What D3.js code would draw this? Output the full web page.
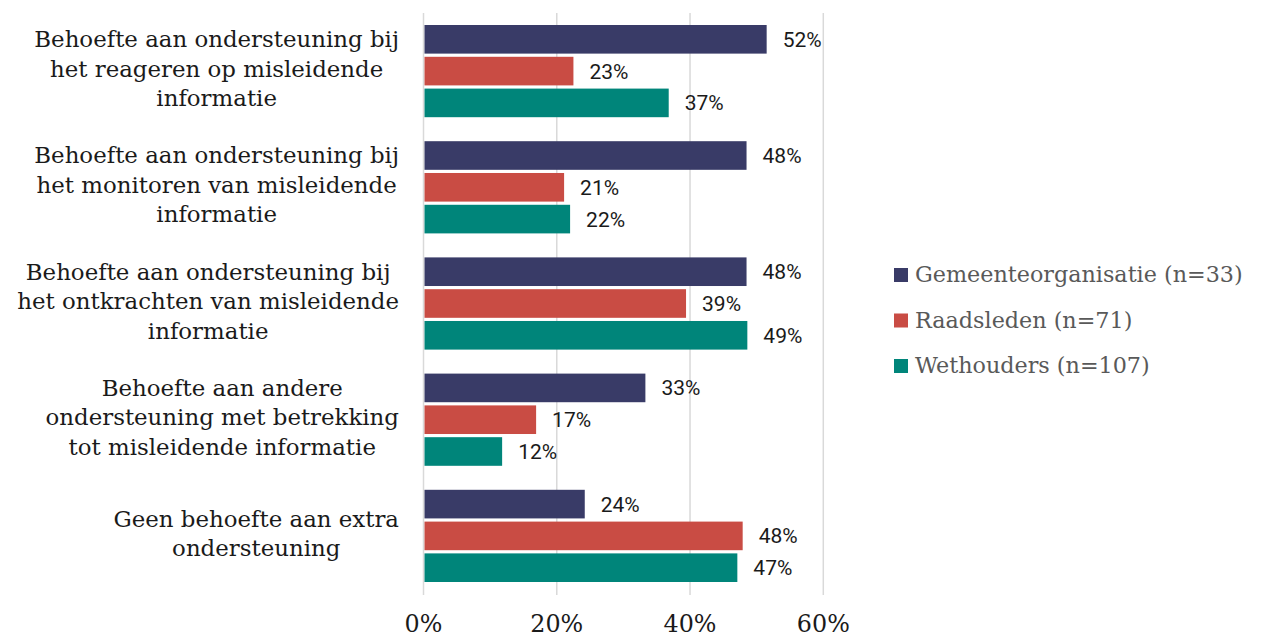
<!DOCTYPE html>
<html>
<head>
<meta charset="utf-8">
<script src="https://cdn.jsdelivr.net/npm/d3@7"></script>
<style>
  html, body { margin: 0; padding: 0; background: #ffffff; }
  svg { display: block; }
</style>
</head>
<body>
<svg id="chart" width="1266" height="637"></svg>
<script>
// ---- data ----
const categories = [
  ["Behoefte aan ondersteuning bij", "het reageren op misleidende", "informatie"],
  ["Behoefte aan ondersteuning bij", "het monitoren van misleidende", "informatie"],
  ["Behoefte aan ondersteuning bij", "het ontkrachten van misleidende", "informatie"],
  ["Behoefte aan andere", "ondersteuning met betrekking", "tot misleidende informatie"],
  ["Geen behoefte aan extra", "ondersteuning"]
];
const seriesNames = ["Gemeenteorganisatie (n=33)", "Raadsleden (n=71)", "Wethouders (n=107)"];
const gemeenteorganisatie = [51.5, 48.48, 48.48, 33.3, 24.2];
const raadsleden = [22.5, 21.1, 39.4, 16.9, 47.9];
const wethouders = [36.8, 22.0, 48.6, 11.8, 47.1];
const tickValues = [0, 20, 40, 60];
const tickLabels = ["0%", "20%", "40%", "60%"];

// ---- styles ----
const colors = ["#393b67", "#c94c44", "#00857a"];
const serif = "'DejaVu Serif', 'Liberation Serif', serif";
const sans = "Roboto, 'Liberation Sans', sans-serif";

const svg = d3.select("#chart");
const seriesValues = [gemeenteorganisatie, raadsleden, wethouders];

function fitSize(text, family, target) {
  const t = svg.append("text").attr("font-family", family).attr("font-size", 20).text(text);
  const w = t.node().getComputedTextLength();
  t.remove();
  return 20 * target / w;
}

const catSize = fitSize("Behoefte aan ondersteuning bij", serif, 365);
const legSize = fitSize("Gemeenteorganisatie (n=33)", serif, 328);
const tickSize = fitSize("20%", serif, 53);

const x = d3.scaleLinear().domain([0, 60]).range([423.5, 823.3]);
const y0 = d3.scaleBand().domain(d3.range(categories.length)).range([13, 594]);
const y1 = d3.scaleBand().domain(d3.range(seriesNames.length))
  .range([12, y0.bandwidth() - 12]).paddingInner(0.1);

// gridlines
svg.append("g").selectAll("line").data(tickValues).join("line")
  .attr("x1", d => x(d)).attr("x2", d => x(d))
  .attr("y1", 13).attr("y2", 595)
  .attr("stroke", "#d9d9d9").attr("stroke-width", 1.5);

// tick labels
svg.append("g").selectAll("text").data(tickValues).join("text")
  .attr("x", d => x(d)).attr("y", 632)
  .attr("text-anchor", "middle")
  .attr("font-family", serif).attr("font-size", tickSize)
  .attr("fill", "#1a1a1a")
  .text((d, i) => tickLabels[i]);

// bars
const groups = svg.append("g").selectAll("g").data(categories).join("g")
  .attr("transform", (d, i) => `translate(0,${y0(i)})`);

groups.each(function(cat, ci) {
  const g = d3.select(this);
  const rows = seriesValues.map((vals, si) => ({ si, v: vals[ci] }));
  g.selectAll("rect").data(rows).join("rect")
    .attr("x", x(0) + 1)
    .attr("y", d => y1(d.si))
    .attr("width", d => x(d.v) - x(0) - 1)
    .attr("height", y1.bandwidth())
    .attr("fill", d => colors[d.si]);
  g.selectAll("text.val").data(rows).join("text")
    .attr("class", "val")
    .attr("x", d => x(d.v) + 16)
    .attr("y", d => y1(d.si) + y1.bandwidth() / 2)
    .attr("dy", "0.36em")
    .attr("font-family", sans).attr("font-size", 21)
    .attr("fill", "#1a1a1a")
    .text(d => Math.round(d.v) + "%");
});

// category labels
const lineH = 29.5;
categories.forEach((lines, ci) => {
  const cy = y0(ci) + y0.bandwidth() / 2;
  const t = svg.append("text")
    .attr("font-family", serif).attr("font-size", catSize)
    .attr("fill", "#1a1a1a").attr("text-anchor", "middle");
  const tspans = lines.map((ln, li) => t.append("tspan")
    .attr("y", cy + 5.5 + (li - (lines.length - 1) / 2) * lineH)
    .text(ln));
  const maxW = d3.max(tspans, s => s.node().getComputedTextLength());
  const cx = 399 - maxW / 2;
  tspans.forEach(s => s.attr("x", cx));
});

// legend
const leg = svg.append("g").selectAll("g").data(seriesNames).join("g")
  .attr("transform", (d, i) => `translate(894,${282 + i * 45.5})`);
leg.append("rect").attr("x", 0).attr("y", -14).attr("width", 14).attr("height", 14)
  .attr("fill", (d, i) => colors[i]);
leg.append("text").attr("x", 21).attr("y", 0)
  .attr("font-family", serif).attr("font-size", legSize)
  .attr("fill", "#595959")
  .text(d => d);
</script>
</body>
</html>
